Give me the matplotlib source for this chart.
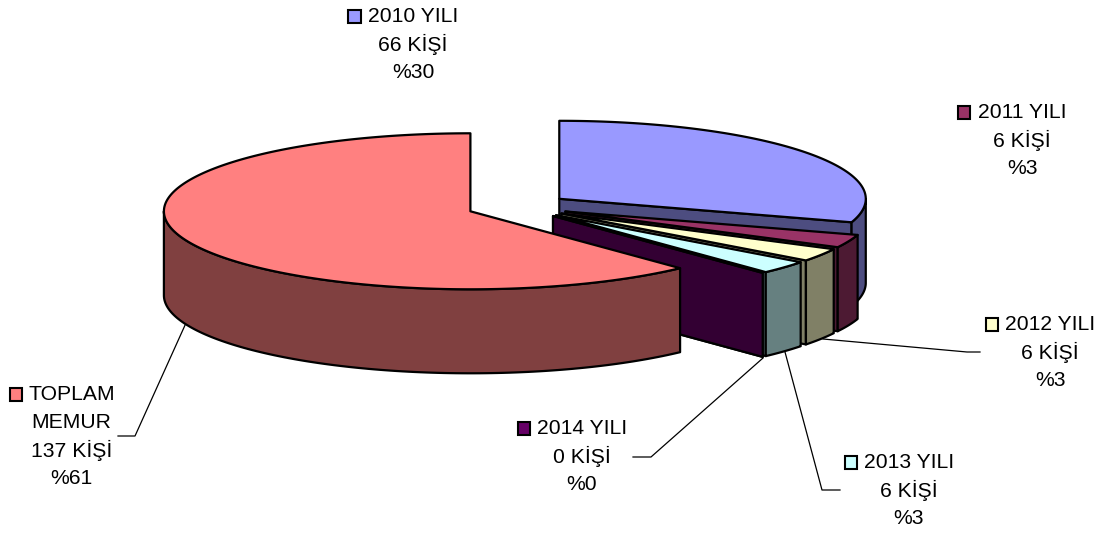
from matplotlib import pyplot as plt
from matplotlib.patches import Polygon, Rectangle
import numpy as np

# values, clockwise from 12 o'clock
names = ['2010 YILI', '2011 YILI', '2012 YILI', '2013 YILI', '2014 YILI', 'TOPLAM']
kisi = [66, 6, 6, 6, 0, 137]
top_colors = ['#9999FF', '#993366', '#FFFFCC', '#CCFFFF', '#660066', '#FF8080']
side_colors = ['#4D4D80', '#4D1A33', '#808066', '#668080', '#330033', '#804040']

label_lines = [
    ['2010 YILI', '66 KİŞİ', '%30'],
    ['2011 YILI', '6 KİŞİ', '%3'],
    ['2012 YILI', '6 KİŞİ', '%3'],
    ['2013 YILI', '6 KİŞİ', '%3'],
    ['2014 YILI', '0 KİŞİ', '%0'],
    ['TOPLAM', 'MEMUR', '137 KİŞİ', '%61'],
]

# pixel layout of the reference
cx, cy = 518, 206.5
rx, ry = 306.5, 78
depth = 84
explode = 0.167
label_x = [413, 1022, 1050, 909, 582, 71.5]
label_y = [17, 113, 325, 463, 429, 395]
key_x = [348, 957.5, 985.5, 844.5, 517.5, 9.5]
line_gap = 27.9
leaders = [
    [(186, 323), (135, 436), (118, 436)],
    [(763, 358), (651, 457), (633, 457)],
    [(785, 352), (822, 490), (840, 490)],
    [(823, 339), (967, 352), (980, 352)],
]

plt.rcParams['font.family'] = ['Liberation Sans', 'DejaVu Sans']
fig = plt.figure(figsize=(11.04, 5.34), dpi=100)
ax = fig.add_axes([0, 0, 1, 1])
ax.set_xlim(0, 1104)
ax.set_ylim(534, 0)
ax.axis('off')


def rim(x0, y0, a, b, n=120):
    t = np.radians(np.linspace(a, b, n))
    return np.column_stack([x0 + rx * np.sin(t), y0 - ry * np.cos(t)])


total = sum(kisi)
angles = np.cumsum([0] + kisi) / total * 360
for line in leaders:
    ax.plot(*zip(*line), color='black', lw=0.9, zorder=1)

for i in range(len(kisi)):
    a, b = angles[i], angles[i + 1]
    mid = np.radians((a + b) / 2)
    x0 = cx + explode * rx * np.sin(mid)
    y0 = cy - explode * ry * np.cos(mid)
    style = dict(edgecolor='black', lw=1.6, joinstyle='round', zorder=2 + i)

    # cut faces, only those turned to the viewer
    for ang in (a, b):
        sign = 1 if ang == b else -1
        if sign * np.sin(np.radians(ang)) > 1e-6:
            p = rim(x0, y0, ang, ang, 1)[0]
            face = [(x0, y0), tuple(p), (p[0], p[1] + depth), (x0, y0 + depth)]
            ax.add_patch(Polygon(face, facecolor=side_colors[i], **style))

    # outer wall on the front half
    lo, hi = max(a, 90), min(b, 270)
    if hi > lo:
        edge = rim(x0, y0, lo, hi)
        wall = np.vstack([edge, edge[::-1] + [0, depth]])
        ax.add_patch(Polygon(wall, facecolor=side_colors[i], **style))

    # top
    top = np.vstack([[x0, y0], rim(x0, y0, a, b, 240)])
    ax.add_patch(Polygon(top, facecolor=top_colors[i], **style))

for i, lines in enumerate(label_lines):
    for j, s in enumerate(lines):
        ax.text(label_x[i], label_y[i] + j * line_gap, s, ha='center', va='center',
                fontsize=15.2, color='black', zorder=20)
    ax.add_patch(Rectangle((key_x[i], label_y[i] - 7), 12.5, 12.5, facecolor=top_colors[i],
                           edgecolor='black', lw=1.5, zorder=20))

fig.savefig('out.png', dpi=100)
